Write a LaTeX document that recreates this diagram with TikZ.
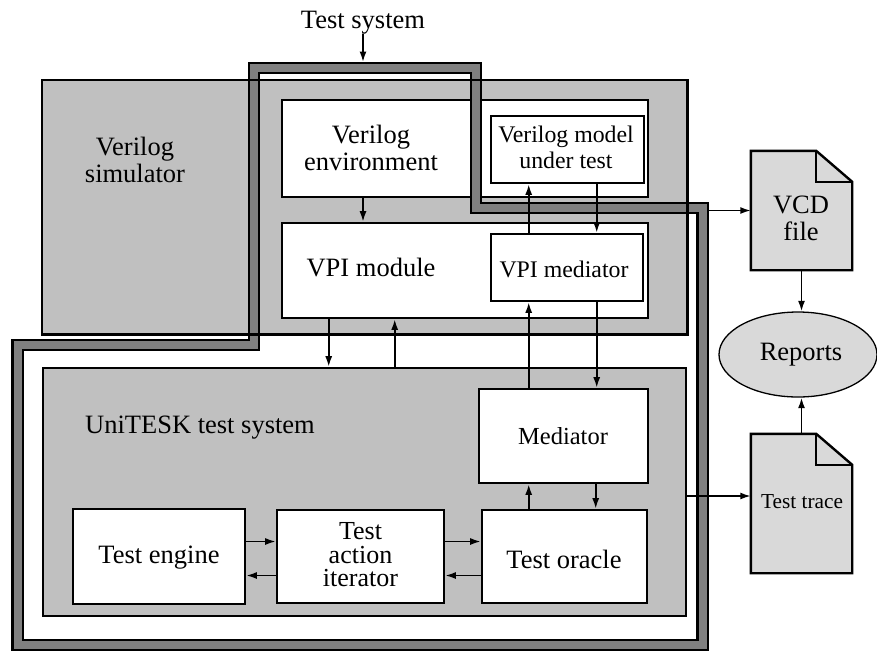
\documentclass[tikz,border=0pt]{standalone}
\usepackage{fontspec}
\setmainfont{Liberation Serif}
\usetikzlibrary{shapes.geometric,arrows.meta,calc}
\definecolor{simgray}{HTML}{C0C0C0}
\definecolor{bandgray}{HTML}{808080}
\definecolor{filegray}{HTML}{D9D9D9}
\begin{document}
\begin{tikzpicture}[x=1pt,y=-1pt,
  box/.style={draw=black, line width=2.6pt, fill=white, inner sep=0pt},
  greybox/.style={draw=black, line width=2.6pt, fill=simgray, inner sep=0pt},
  lbl/.style={font=\fontsize{26.5}{27}\selectfont, align=center, inner sep=0pt},
  slbl/.style={font=\fontsize{23.8}{26}\selectfont, align=center, inner sep=0pt},
  arr/.style={line width=1.7pt, -{Latex[length=10.5pt,width=7pt]}},
  filebg/.style={fill=filegray, draw=black, line width=2.4pt, line join=miter},
  bandout/.style={line width=12.5pt, line join=miter, draw=black},
  bandin/.style={line width=8pt, line join=miter, draw=bandgray}]
\useasboundingbox (0,0) rectangle (877,651);

% simulator fill
\node[fill=simgray, draw=none, inner sep=0, minimum width=645pt, minimum height=254pt] (sim) at (364.5,207) {};
% UniTESK box
\node[greybox, minimum width=643pt, minimum height=248pt] (uni) at (364.5,492) {};
% white boxes in simulator
\node[box, minimum width=366pt, minimum height=97pt] (upper) at (465,148.5) {};
\node[box, minimum width=366pt, minimum height=95pt] (vpim) at (465,270.5) {};

% test system band
\coordinate (b1) at (254,68);
\coordinate (b2) at (476,68);
\coordinate (b3) at (476,208);
\coordinate (b4) at (702.5,208);
\coordinate (b5) at (702.5,645);
\coordinate (b6) at (17.5,645);
\coordinate (b7) at (17.5,345);
\coordinate (b8) at (254,345);
\draw[bandout] (b1) -- (b2) -- (b3) -- (b4) -- (b5) -- (b6) -- (b7) -- (b8) -- cycle;
\draw[bandin] (b1) -- (b2) -- (b3) -- (b4) -- (b5) -- (b6) -- (b7) -- (b8) -- cycle;

% simulator border over band
\draw[line width=2.6pt] (sim.north west) rectangle (sim.south east);

% inner boxes
\node[box, minimum width=153pt, minimum height=67pt] (vmut) at (567.5,149.5) {};
\node[box, minimum width=152pt, minimum height=67pt] (vpimed) at (567,267.5) {};
\node[box, minimum width=169pt, minimum height=94pt] (med) at (563.5,436) {};
\node[box, minimum width=172pt, minimum height=95pt] (eng) at (159,556.5) {};
\node[box, minimum width=167pt, minimum height=93pt] (itr) at (360.5,556.5) {};
\node[box, minimum width=165pt, minimum height=93pt] (orc) at (564.5,556.5) {};

% labels
\node[lbl, anchor=base] (ts) at (363,28) {Test system};
\node[lbl] (simt) at (135,160) {Verilog\\simulator};
\node[lbl] (venvt) at (371,147.5) {Verilog\\environment};
\node[slbl] (vmutt) at (566,147) {Verilog model\\under test};
\node[lbl, anchor=base] (vpimt) at (371,276) {VPI module};
\node[slbl, anchor=base] (vpimedt) at (564,277) {VPI mediator};
\node[lbl, anchor=base] (unit) at (200,433) {UniTESK test system};
\node[font=\fontsize{24.5}{26}\selectfont, inner sep=0, anchor=base] (medt) at (563,444) {Mediator};
\node[lbl, anchor=base] (engt) at (159,563) {Test engine};
\node[font=\fontsize{26}{23.5}\selectfont, align=center, inner sep=0] (itrt) at (360.5,555) {Test\\action\\iterator};
\node[lbl, anchor=base] (orct) at (564,568) {Test oracle};

% files and reports
\node[draw=none, inner sep=0, minimum width=101pt, minimum height=119pt] (vcd) at (801.5,210.5) {};
\filldraw[filebg] (vcd.south west) -- (vcd.north west) -- ([xshift=-36pt]vcd.north east) -- ([yshift=-31pt]vcd.north east) -- (vcd.south east) -- cycle;
\draw[line width=2.4pt] ([xshift=-36pt]vcd.north east) |- ([yshift=-31pt]vcd.north east);
\node[lbl] (vcdt) at (801,218) {VCD\\file};

\node[draw=none, inner sep=0, minimum width=101pt, minimum height=139pt] (tt) at (801.5,503.5) {};
\filldraw[filebg] (tt.south west) -- (tt.north west) -- ([xshift=-36pt]tt.north east) -- ([yshift=-31pt]tt.north east) -- (tt.south east) -- cycle;
\draw[line width=2.4pt] ([xshift=-36pt]tt.north east) |- ([yshift=-31pt]tt.north east);
\node[font=\fontsize{21.3}{23}\selectfont, inner sep=0, anchor=base] (ttt) at (802,508) {Test trace};

\node[ellipse, draw=black, line width=1.3pt, fill=filegray, inner sep=0, minimum width=158pt, minimum height=85pt] (rep) at (798,354.5) {};
\node[lbl, anchor=base] (rept) at (801,360) {Reports};

% arrows
\draw[arr] (ts.south) -- ($(ts.south |- b1)+(0,-6)$);
\draw[arr] (upper.south -| ts) -- (vpim.north -| ts);
\draw[arr] ($(vpim.south west)+(48,0)$) -- ($(vpim.south west |- uni.north)+(48,0)$);
\draw[arr] ($(vpim.south west |- uni.north)+(114,0)$) -- ($(vpim.south west)+(114,0)$);
\draw[arr] ($(vpimed.north west)+(39,0)$) -- ($(vpimed.north west |- vmut.south)+(39,0)$);
\draw[arr] ($(vpimed.north west |- vmut.south)+(107,0)$) -- ($(vpimed.north west)+(107,0)$);
\draw[arr] ($(vpimed.south west |- med.north)+(39,0)$) -- ($(vpimed.south west)+(39,0)$);
\draw[arr] ($(vpimed.south west)+(107,0)$) -- ($(vpimed.south west |- med.north)+(107,0)$);
\draw[arr] ($(vpimed.south west |- orc.north)+(39,0)$) -- ($(vpimed.south west |- med.south)+(39,0)$);
\draw[arr] ($(vpimed.south west |- med.south)+(106,0)$) -- ($(vpimed.south west |- orc.north)+(106,0)$);
\draw[arr] ($(eng.east)+(0,-15)$) -- ($(eng.east -| itr.west)+(0,-15)$);
\draw[arr] ($(itr.west)+(0,19)$) -- ($(itr.west -| eng.east)+(0,19)$);
\draw[arr] ($(itr.east)+(0,-15)$) -- ($(itr.east -| orc.west)+(0,-15)$);
\draw[arr] ($(orc.west)+(0,19)$) -- ($(orc.west -| itr.east)+(0,19)$);
\draw[arr] ($(b4 |- vcd.west)+(6,0)$) -- (vcd.west);
\draw[arr] ($(tt.west -| uni.east)+(0,-7.5)$) -- ($(tt.west)+(0,-7.5)$);
\draw[arr] (vcd.south) -- (vcd.south |- rep.north);
\draw[arr] (tt.north) -- (tt.north |- rep.south);
\end{tikzpicture}
\end{document}
